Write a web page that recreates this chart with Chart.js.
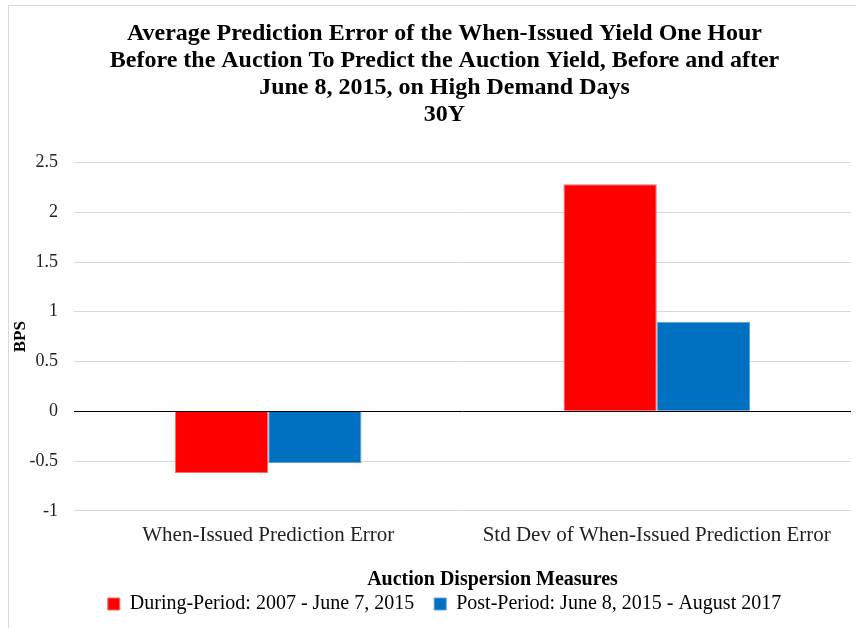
<!DOCTYPE html>
<html>
<head>
<meta charset="utf-8">
<script src="https://cdn.jsdelivr.net/npm/chart.js@4/dist/chart.umd.min.js"></script>
<style>
  html, body { margin: 0; padding: 0; background: #fff; }
  #wrap { width: 856px; height: 628px; position: relative; }
</style>
</head>
<body>
<div id="wrap"><canvas id="myChart" width="856" height="628"></canvas></div>
<script>
// Chart data
const categories = ['When-Issued Prediction Error', 'Std Dev of When-Issued Prediction Error'];
const seriesNames = ['During-Period: 2007 - June 7, 2015', 'Post-Period: June 8, 2015 - August 2017'];
const duringValues = [-0.62, 2.28];
const postValues = [-0.52, 0.90];
const yTicks = [-1, -0.5, 0, 0.5, 1, 1.5, 2, 2.5];

const serif = "'Liberation Serif', 'Times New Roman', serif";

// Light frame around the chart, like the exported picture
const framePlugin = {
    id: 'frame',
    beforeDraw(chart) {
        const c = chart.ctx;
        c.save();
        c.fillStyle = '#fff';
        c.fillRect(0, 0, chart.width, chart.height);
        c.strokeStyle = '#d9d9d9';
        c.lineWidth = 1;
        c.strokeRect(8.5, 5.5, chart.width, chart.height);
        c.restore();
    },
    // title, legend and x title sit right of centre in the original
    afterLayout(chart) {
        [chart.titleBlock, chart.legend].forEach(b => {
            if (b) { b.left += 14; b.right += 14; }
        });
        // ticks are already configured, so this only moves the axis title
        const x = chart.scales.x;
        x.left += 30;
        x.right += 30;
    }
};

document.addEventListener('DOMContentLoaded', function() {
    const ctx = document.getElementById('myChart').getContext('2d');
    window.myChart = new Chart(ctx, {
        type: 'bar',
        data: {
            labels: categories,
            datasets: [{
                label: seriesNames[0],
                data: duringValues,
                backgroundColor: '#ff0000',
                borderColor: '#ff6b6b',
                borderWidth: 1
            }, {
                label: seriesNames[1],
                data: postValues,
                backgroundColor: '#0070c0',
                borderColor: '#5aa0d8',
                borderWidth: 1
            }]
        },
        options: {
            responsive: false,
            animation: false,
            layout: { autoPadding: false, padding: { left: 10, right: 5, top: 0, bottom: 4 } },
            datasets: {
                bar: { categoryPercentage: 0.48, barPercentage: 1.0 }
            },
            plugins: {
                title: {
                    display: true,
                    text: [
                        'Average Prediction Error of the When-Issued Yield One Hour',
                        'Before the Auction To Predict the Auction Yield, Before and after',
                        'June 8, 2015, on High Demand Days',
                        '30Y'
                    ],
                    color: '#000',
                    font: { family: serif, size: 24, weight: 'bold', lineHeight: 1.13 },
                    padding: { top: 20, bottom: 34 }
                },
                legend: {
                    position: 'bottom',
                    labels: {
                        color: '#000',
                        font: { family: serif, size: 20 },
                        boxWidth: 12,
                        boxHeight: 12,
                        padding: 20,
                        useBorderRadius: false
                    }
                },
                tooltip: { enabled: false }
            },
            scales: {
                x: {
                    afterFit: function(scale) {
                        scale.paddingLeft = 0;
                        scale.paddingRight = 0;
                    },
                    grid: { display: false, drawTicks: false },
                    border: { display: false },
                    ticks: {
                        color: '#222',
                        font: { family: serif, size: 21 },
                        padding: 12,
                        maxRotation: 0
                    },
                    title: {
                        display: true,
                        text: 'Auction Dispersion Measures',
                        color: '#000',
                        font: { family: serif, size: 20, weight: 'bold' },
                        padding: { top: 8, bottom: -18 }
                    }
                },
                y: {
                    min: -1,
                    max: 2.5,
                    afterBuildTicks: function(axis) {
                        axis.ticks = yTicks.map(v => ({ value: v }));
                    },
                    afterFit: function(scale) {
                        scale.width = 64;
                    },
                    grid: {
                        drawTicks: false,
                        color: ctx => (ctx.tick && ctx.tick.value === 0) ? '#000' : '#d9d9d9',
                        lineWidth: 1
                    },
                    border: { display: false },
                    ticks: {
                        color: '#222',
                        font: { family: serif, size: 18 },
                        padding: 16,
                        callback: value => String(value)
                    },
                    title: {
                        display: true,
                        text: 'BPS',
                        color: '#000',
                        font: { family: serif, size: 17, weight: 'bold' },
                        padding: { top: 0, bottom: 0 }
                    }
                }
            }
        },
        plugins: [framePlugin]
    });
});
</script>
</body>
</html>
